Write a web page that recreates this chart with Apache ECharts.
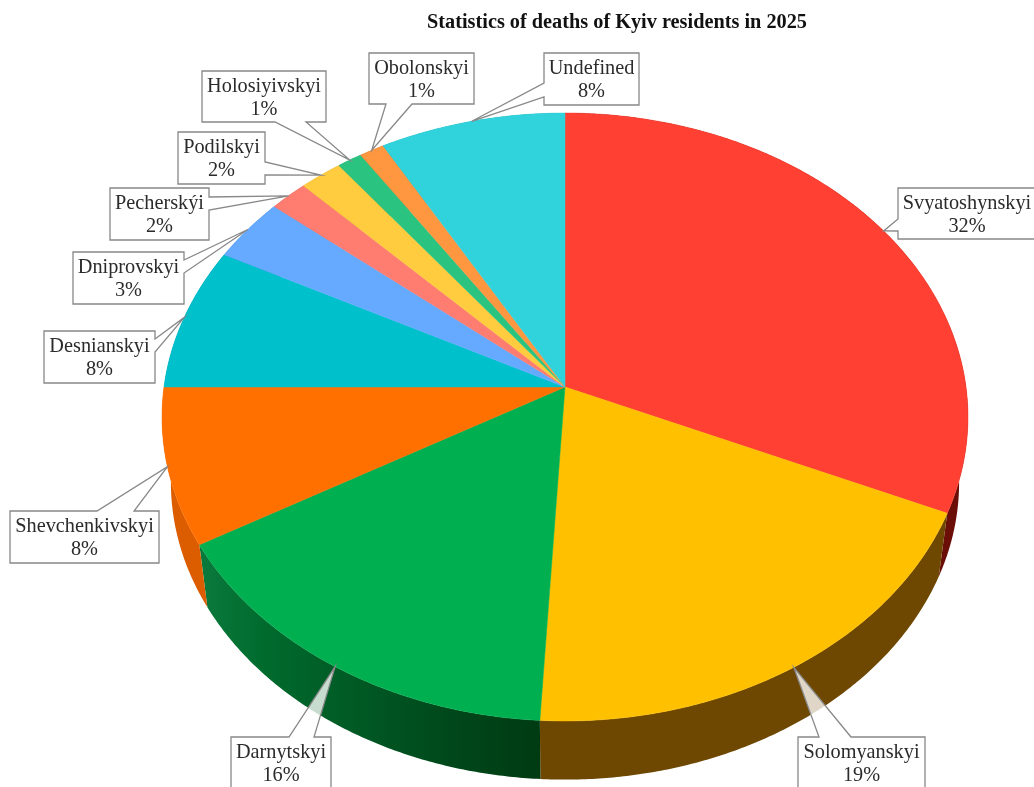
<!DOCTYPE html>
<html>
<head>
<meta charset="utf-8">
<style>html,body{margin:0;padding:0;background:#fff}#chart{width:1034px;height:787px}</style>
<script src="https://cdn.jsdelivr.net/npm/echarts@6/dist/echarts.min.js"></script>
</head>
<body>
<div id="chart"></div>
<script>
// Share of deaths per district, percent, clockwise from twelve o'clock.
const districts = ['Svyatoshynskyi','Solomyanskyi','Darnytskyi','Shevchenkivskyi','Desnianskyi','Dniprovskyi','Pecherskýi','Podilskyi','Holosiyivskyi','Obolonskyi','Undefined'];
const shares = [31.6,19.3,15.8,8.3,7.6,3.4,1.7,1.9,1.1,1.1,8.2];

const topColors = ['#ff4033','#ffc000','#00b050','#ff7000','#00c0cc','#66aaff','#ff7d70','#ffcc40','#2ac480','#ff9640','#30d3dc'];
const wallColors = ['#6b0e08','#6e4700',null,'#dc5c00','#007a80','#3f6ea8','#a8504a','#a8862a','#1a8050','#a8602a','#1f8a90'];

// Callout boxes: [left, top, right, bottom], the side the pointer leaves from, and where it joins that side.
const boxes = [[898,188,1040,239],[798,737,925,789],[231,737,331,789],[10,511,159,563],[44,331,155,383],[73,252,184,304],[110,188,209,240],[178,132,265,184],[202,71,326,122],[369,53,474,104],[544,53,639,105]];
const pointerSides = ['left','top','top','top','right','right','right','right','bottom','bottom','left'];
const pointerGates = [[219,231],[819,851],[289,314],[97,134],[339,352],[260,273],[197,210],[162,175],[275,306],[386,412],[83,97]];

// Perspective projection of the disc onto the page.
const apex = [565, 387], radiusX = 401, radiusY = 301, tilt = 0.0987;
const floorDrop = 66, floorScale = 0.978;

function rim(theta, isFloor) {
  const u = Math.sin(theta), v = -Math.cos(theta), d = 1 - tilt * v;
  const x = radiusX * u / d, y = radiusY * v / d;
  return isFloor
    ? [apex[0] + x * floorScale, apex[1] + floorDrop + y * floorScale]
    : [apex[0] + x, apex[1] + y];
}
function arc(a0, a1, isFloor) {
  const n = Math.max(2, Math.ceil(Math.abs(a1 - a0) / 0.008)), pts = [];
  for (let i = 0; i <= n; i++) pts.push(rim(a0 + (a1 - a0) * i / n, isFloor));
  return pts;
}
const toAngle = p => p / 100 * Math.PI * 2;

let running = 0;
const rows = shares.map(s => { const r = [running, s]; running += s; return r; });

function renderWall(params, api) {
  const a0 = toAngle(api.value(0)), a1 = toAngle(api.value(0) + api.value(1));
  const points = arc(a0, a1, false).concat(arc(a1, a0, true));
  const i = params.dataIndex;
  const fill = wallColors[i] || new echarts.graphic.LinearGradient(0, 0, 1, 0, [
    {offset: 0, color: '#0a7a3c'}, {offset: 0.2, color: '#006a2d'}, {offset: 0.45, color: '#005a24'}, {offset: 0.75, color: '#00471a'}, {offset: 1, color: '#003b12'}
  ]);
  return {type: 'polygon', shape: {points}, style: {fill, stroke: null}, silent: true};
}
function renderTop(params, api) {
  const a0 = toAngle(api.value(0)), a1 = toAngle(api.value(0) + api.value(1));
  const points = [apex].concat(arc(a0, a1, false));
  const fill = topColors[params.dataIndex];
  return {type: 'polygon', shape: {points}, style: {fill, stroke: fill, lineWidth: 0.5}, silent: true};
}
function renderCallout(params, api) {
  const i = params.dataIndex;
  const [l, t, r, b] = boxes[i], [g0, g1] = pointerGates[i], side = pointerSides[i];
  const tip = rim(toAngle(api.value(0) + api.value(1) / 2), false);
  const pts = [[l, t]];
  if (side === 'top') pts.push([g0, t], tip, [g1, t]);
  pts.push([r, t]);
  if (side === 'right') pts.push([r, g0], tip, [r, g1]);
  pts.push([r, b]);
  if (side === 'bottom') pts.push([g1, b], tip, [g0, b]);
  pts.push([l, b]);
  if (side === 'left') pts.push([l, g1], tip, [l, g0]);
  const cx = i === 0 ? 967 : (l + r) / 2;
  const textStyle = (text, y) => ({text, x: cx, y, align: 'center', verticalAlign: 'middle', fill: '#2b2b2b', font: '20.3px "Liberation Serif"'});
  return {
    type: 'group', silent: true,
    children: [
      {type: 'polygon', shape: {points: pts}, style: {fill: 'rgba(255,255,255,0.78)', stroke: '#888888', lineWidth: 1.3}},
      {type: 'text', style: textStyle(districts[i], t + 16)},
      {type: 'text', style: textStyle(Math.round(api.value(1)) + '%', t + 39)}
    ]
  };
}

const chart = echarts.init(document.getElementById('chart'), null, {renderer: 'canvas'});
chart.setOption({
  backgroundColor: '#fff',
  animation: false,
  title: {
    text: 'Statistics of deaths of Kyiv residents in 2025',
    left: 612, top: 8, textAlign: 'center',
    textStyle: {fontFamily: 'Liberation Serif', fontSize: 20.3, fontWeight: 'bold', color: '#111'}
  },
  series: [
    {type: 'custom', coordinateSystem: 'none', data: rows, renderItem: renderWall, z: 1},
    {type: 'custom', coordinateSystem: 'none', data: rows, renderItem: renderTop, z: 2},
    {type: 'custom', coordinateSystem: 'none', data: rows, renderItem: renderCallout, z: 3}
  ]
});
</script>
</body>
</html>
